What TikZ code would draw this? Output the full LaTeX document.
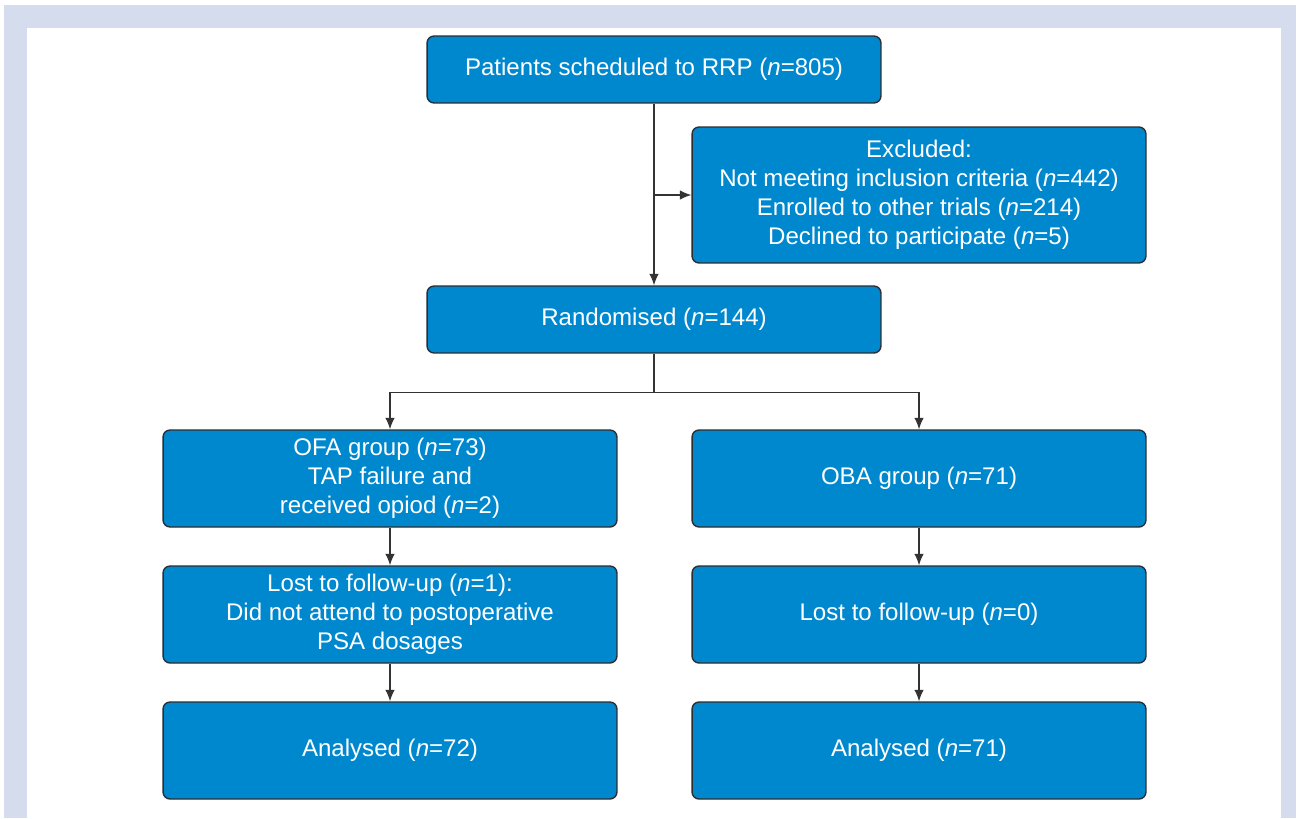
\documentclass[tikz,border=0pt]{standalone}
\usepackage{fontspec}
\setmainfont{Liberation Sans}
\usetikzlibrary{positioning,arrows.meta,calc}

\definecolor{framebg}{HTML}{D4DCEE}
\definecolor{boxfill}{HTML}{0088CF}
\definecolor{boxline}{HTML}{2B2E33}
\definecolor{linkcol}{HTML}{333333}

\newcommand{\nval}[1]{(\textit{n}=#1)}

\tikzset{
flowbox/.style={draw=boxline, line width=0.8pt, fill=boxfill, rounded corners=4pt,
  text=white, align=center, minimum width=9.08cm, inner sep=0pt,
  font=\fontsize{13.7}{16.5}\selectfont},
link/.style={draw=linkcol, line width=0.7pt}
}

\begin{document}
\begin{tikzpicture}[x=0.02cm, y=-0.02cm, >={Latex[length=2.3mm,width=1.9mm]}]
\useasboundingbox (0,0) rectangle (1300,818);

% Frame
\fill[framebg] (4,5) rectangle (1296,818);
\fill[white] (27,28) rectangle (1281,818);

% Boxes
\node[flowbox, minimum height=1.34cm] (sched) at (654,69.5)
  {Patients scheduled to RRP \nval{805}};
\node[flowbox, minimum height=2.72cm] (excl) at (919,195)
  {Excluded:\\Not meeting inclusion criteria \nval{442}\\
   Enrolled to other trials \nval{214}\\Declined to participate \nval{5}};
\node[flowbox, minimum height=1.34cm] (rand) at (654,319.5)
  {Randomised \nval{144}};

\node[flowbox, minimum height=1.94cm] (ofa) at (390,478.5)
  {OFA group \nval{73}\\TAP failure and\\received opiod \nval{2}};
\node[flowbox, minimum height=1.94cm] (oba) at (919,478.5)
  {OBA group \nval{71}};

\node[flowbox, minimum height=1.94cm] (lostl) at (390,614.5)
  {Lost to follow-up \nval{1}:\\Did not attend to postoperative\\PSA dosages};
\node[flowbox, minimum height=1.94cm] (lostr) at (919,614.5)
  {Lost to follow-up \nval{0}};

\node[flowbox, minimum height=1.94cm] (anl) at (390,750.5)
  {Analysed \nval{72}};
\node[flowbox, minimum height=1.94cm] (anr) at (919,750.5)
  {Analysed \nval{71}};

% Connectors
\draw[link,->] (sched.south) -- (rand.north);
\coordinate (exsplit) at (sched.south |- excl.west);
\draw[link,->] (exsplit) -- (excl.west);

\coordinate (fork) at ($(rand.south)+(0,39)$);
\draw[link] (rand.south) -- (fork);
\draw[link,->] (fork) -| (ofa.north);
\draw[link,->] (fork) -| (oba.north);

\draw[link,->] (ofa.south) -- (lostl.north);
\draw[link,->] (oba.south) -- (lostr.north);
\draw[link,->] (lostl.south) -- (anl.north);
\draw[link,->] (lostr.south) -- (anr.north);

\end{tikzpicture}
\end{document}
